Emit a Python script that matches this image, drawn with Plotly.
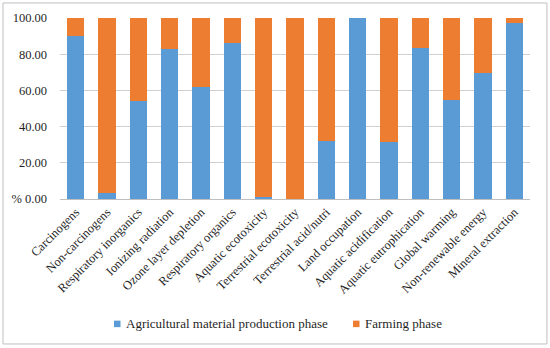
import plotly.graph_objects as go

categories = ["Carcinogens", "Non-carcinogens", "Respiratory inorganics", "Ionizing radiation",
              "Ozone layer depletion", "Respiratory organics", "Aquatic ecotoxicity",
              "Terrestrial ecotoxicity", "Terrestrial acid/nutri", "Land occupation",
              "Aquatic acidification", "Aquatic eutrophication", "Global warming",
              "Non-renewable energy", "Mineral extraction"]
agri = [90.0, 3.1, 54.1, 82.7, 61.7, 86.2, 1.0, 0.0, 32.0, 100.0, 31.7, 83.6, 54.7, 69.6, 97.0]
farming = [round(100 - v, 2) for v in agri]
series_names = ["Agricultural material production phase", "Farming phase"]
series_colors = ["#5B9BD5", "#ED7D31"]
ytick_vals = [0, 20, 40, 60, 80, 100]
ytick_text = ["% 0.00", "20.00", "40.00", "60.00", "80.00", "100.00"]

font_family = "'Liberation Serif', 'Times New Roman', 'DejaVu Serif', serif"
text_color = "#1f1f1f"

fig = go.Figure()
fig.add_trace(go.Bar(x=categories, y=agri, name=series_names[0],
                     marker=dict(color=series_colors[0], line=dict(width=0))))
fig.add_trace(go.Bar(x=categories, y=farming, name=series_names[1],
                     marker=dict(color=series_colors[1], line=dict(width=0))))

# legend drawn as marker squares + text (positions in paper units)
legend_x = [0.1149, 0.6234]
legend_y = -0.69
shapes = [dict(type="rect", xref="paper", yref="paper",
               x0=-0.1213, x1=1.036, y0=-0.801, y1=1.083,
               line=dict(color="#bfbfbf", width=1))]
annotations = []
sq_w = 6.5 / 470
sq_h = 6.5 / 181
for name, color, lx in zip(series_names, series_colors, legend_x):
    shapes.append(dict(type="rect", xref="paper", yref="paper",
                       x0=lx, x1=lx + sq_w, y0=legend_y - sq_h / 2, y1=legend_y + sq_h / 2,
                       fillcolor=color, line=dict(width=0)))
    annotations.append(dict(
        xref="paper", yref="paper", x=lx + 10 / 470, y=legend_y,
        xanchor="left", yanchor="middle", showarrow=False, text=name,
        font=dict(family=font_family, size=13, color=text_color),
    ))

fig.update_layout(
    barmode="stack",
    bargap=0.44,
    width=550, height=348,
    margin=dict(l=60, r=20, t=18, b=149),
    paper_bgcolor="white", plot_bgcolor="white",
    font=dict(family=font_family, size=12.5, color=text_color),
    showlegend=False,
    annotations=annotations,
    shapes=shapes,
    xaxis=dict(tickangle=-45, showgrid=False, showline=True, linecolor="#bfbfbf",
               ticks="", tickfont=dict(size=12.5), automargin=False),
    yaxis=dict(range=[0, 100], tickvals=ytick_vals, ticktext=ytick_text,
               showgrid=True, gridcolor="#d0d0d0", zeroline=False, ticks="",
               ticklabelstandoff=12, tickfont=dict(size=12.5), automargin=False),
)

fig.write_html("out.html", config={"displayModeBar": False},
               post_script="document.body.style.margin='0px';")
